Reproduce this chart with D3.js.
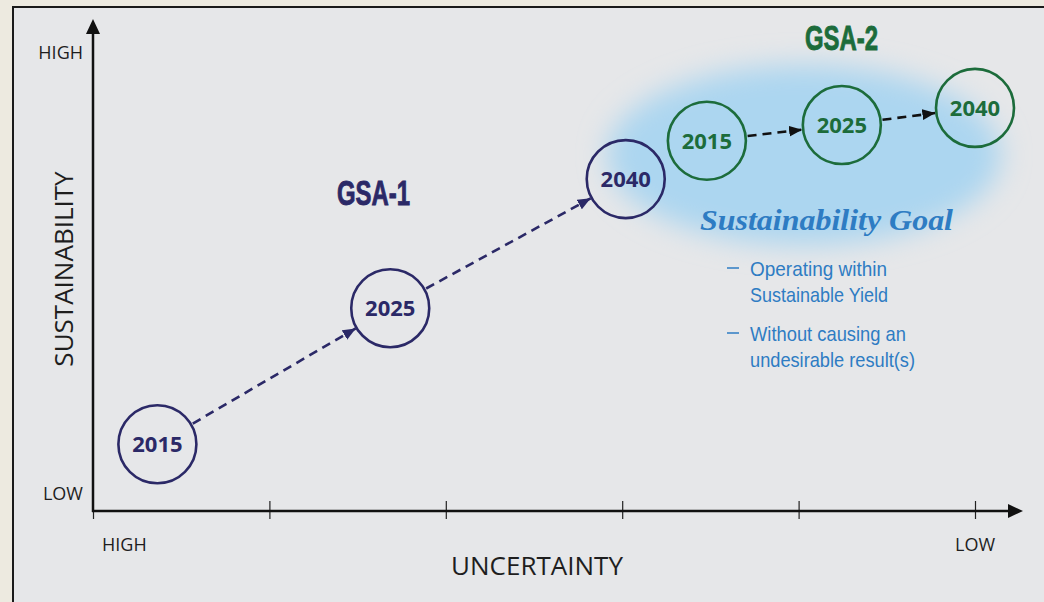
<!DOCTYPE html>
<html>
<head>
<meta charset="utf-8">
<script src="https://cdn.jsdelivr.net/npm/d3@7"></script>
<style>
  html, body { margin: 0; padding: 0; background: #edeae0; }
  svg { display: block; }
</style>
</head>
<body>
<div id="chart"></div>
<script>
// data (both axes 0..100)
var years = ['2015', '2025', '2040'];
var gsa1X = [7.3, 33.7, 60.4];
var gsa1Y = [13.6, 41.3, 67.6];
var gsa2X = [69.6, 84.9, 100];
var gsa2Y = [75.4, 78.6, 82.1];
var xTicks = [0, 20, 40, 60, 80, 100];
var goalLines = [['Operating within', 'Sustainable Yield'], ['Without causing an', 'undesirable result(s)']];
var goalWidths = [[137, 138], [156, 165]];

var width = 1044, height = 602;
var navy = '#2b2967', green = '#1c6c3b', blue = '#2e7cc3';
var narrow = '"Liberation Sans", "Roboto", sans-serif';

var svg = d3.select('#chart').append('svg')
  .attr('width', width)
  .attr('height', height);

var defs = svg.append('defs');
defs.append('filter').attr('id', 'glow')
  .attr('x', '-50%').attr('y', '-50%').attr('width', '200%').attr('height', '200%')
  .append('feGaussianBlur').attr('stdDeviation', 14);

['navyHead', 'blackHead'].forEach(function (id, i) {
  defs.append('marker')
    .attr('id', id)
    .attr('viewBox', '0 0 12 10')
    .attr('refX', 12).attr('refY', 5)
    .attr('markerUnits', 'userSpaceOnUse')
    .attr('markerWidth', 13).attr('markerHeight', 11)
    .attr('orient', 'auto')
    .append('path')
    .attr('d', 'M0,0 L12,5 L0,10 Z')
    .attr('fill', i === 0 ? navy : '#111');
});

// panel + frame
svg.append('rect')
  .attr('x', 13).attr('y', 7)
  .attr('width', width + 10).attr('height', height + 10)
  .attr('fill', '#e6e7e9')
  .attr('stroke', '#1a1a1a')
  .attr('stroke-width', 2);

var x = d3.scaleLinear().domain([0, 100]).range([93, 975]);
var y = d3.scaleLinear().domain([0, 100]).range([511, 20]);

// blue glow behind GSA-2
svg.append('ellipse')
  .attr('cx', 804).attr('cy', 155)
  .attr('rx', 197).attr('ry', 90)
  .attr('fill', '#acd6f0')
  .attr('filter', 'url(#glow)');

// x axis
var xAxis = d3.axisBottom(x).tickValues(xTicks).tickFormat('').tickSize(8).tickSizeOuter(0);
var gx = svg.append('g')
  .attr('transform', 'translate(0,' + y(0) + ')')
  .call(xAxis);
gx.select('.domain').remove();
gx.selectAll('.tick line').attr('y1', -10).attr('stroke', '#222').attr('stroke-width', 1.2);
gx.select('.tick line').attr('y1', 0);
svg.append('line')
  .attr('x1', x(0) - 1).attr('x2', 1010)
  .attr('y1', y(0)).attr('y2', y(0))
  .attr('stroke', '#111').attr('stroke-width', 2.5);
svg.append('path')
  .attr('d', 'M1008,' + (y(0) - 7) + ' L1023,' + y(0) + ' L1008,' + (y(0) + 7) + ' Z')
  .attr('fill', '#111');

// y axis
svg.append('line')
  .attr('x1', x(0)).attr('x2', x(0))
  .attr('y1', y(0) + 1).attr('y2', 32)
  .attr('stroke', '#111').attr('stroke-width', 2.5);
svg.append('path')
  .attr('d', 'M' + (x(0) - 7) + ',34 L' + x(0) + ',19 L' + (x(0) + 7) + ',34 Z')
  .attr('fill', '#111');

var axisFont = '"Open Sans", "Liberation Sans", sans-serif';
function label(tx, ty, txt, size, anchor) {
  return svg.append('text')
    .attr('x', tx).attr('y', ty)
    .attr('text-anchor', anchor || 'start')
    .attr('font-family', axisFont)
    .attr('font-size', size)
    .attr('fill', '#1e1e1e')
    .text(txt);
}
label(83, 59, 'HIGH', 18, 'end');
label(83, 500, 'LOW', 18, 'end');
label(102, 551, 'HIGH', 18);
label(x(100), 551, 'LOW', 18, 'middle');
label(537, 575, 'UNCERTAINTY', 26, 'middle');
label(0, 0, 'SUSTAINABILITY', 26, 'middle')
  .attr('transform', 'translate(73,269) rotate(-90)');

// dashed connectors between circles
var r = 39;
function connectors(xs, ys, color, marker) {
  var pairs = d3.pairs(d3.range(xs.length));
  svg.selectAll(null)
    .data(pairs)
    .enter()
    .append('line')
    .each(function (p) {
      var x1 = x(xs[p[0]]), y1 = y(ys[p[0]]);
      var x2 = x(xs[p[1]]), y2 = y(ys[p[1]]);
      var len = Math.hypot(x2 - x1, y2 - y1);
      var ux = (x2 - x1) / len, uy = (y2 - y1) / len;
      d3.select(this)
        .attr('x1', x1 + ux * (r + 2)).attr('y1', y1 + uy * (r + 2))
        .attr('x2', x2 - ux * (r + 1)).attr('y2', y2 - uy * (r + 1));
    })
    .attr('stroke', color)
    .attr('stroke-width', 2.6)
    .attr('stroke-dasharray', '9,6')
    .attr('marker-end', 'url(#' + marker + ')');
}
connectors(gsa1X, gsa1Y, navy, 'navyHead');
connectors(gsa2X, gsa2Y, '#111', 'blackHead');

// circles
function circles(xs, ys, color) {
  var g = svg.selectAll(null)
    .data(years)
    .enter()
    .append('g')
    .attr('transform', function (d, i) {
      return 'translate(' + x(xs[i]) + ',' + y(ys[i]) + ')';
    });
  g.append('circle')
    .attr('r', r)
    .attr('fill', 'none')
    .attr('stroke', color)
    .attr('stroke-width', 2.6);
  g.append('text')
    .attr('text-anchor', 'middle')
    .attr('dy', '0.36em')
    .attr('font-family', '"Open Sans", sans-serif')
    .attr('font-weight', 700)
    .attr('font-size', 22)
    .attr('fill', color)
    .text(function (d) { return d; });
}
circles(gsa1X, gsa1Y, navy);
circles(gsa2X, gsa2Y, green);

// group titles (condensed look via textLength)
function title(tx, ty, txt, color) {
  svg.append('text')
    .attr('x', tx).attr('y', ty)
    .attr('font-family', narrow)
    .attr('font-weight', 700)
    .attr('font-size', 35)
    .attr('textLength', 73)
    .attr('lengthAdjust', 'spacingAndGlyphs')
    .attr('fill', color)
    .attr('stroke', color)
    .attr('stroke-width', 0.9)
    .text(txt);
}
title(337, 205, 'GSA-1', navy);
title(805, 50, 'GSA-2', green);

// sustainability goal
svg.append('text')
  .attr('x', 700).attr('y', 230)
  .attr('font-family', '"Liberation Serif", "DejaVu Serif", serif')
  .attr('font-weight', 700)
  .attr('font-style', 'italic')
  .attr('font-size', 30)
  .attr('textLength', 253)
  .attr('lengthAdjust', 'spacingAndGlyphs')
  .attr('fill', blue)
  .text('Sustainability Goal');

goalLines.forEach(function (lines, i) {
  var top = 276 + i * 65;
  svg.append('line')
    .attr('x1', 727).attr('x2', 739)
    .attr('y1', top - 8).attr('y2', top - 8)
    .attr('stroke', blue).attr('stroke-width', 1.5);
  lines.forEach(function (t, j) {
    svg.append('text')
      .attr('x', 750).attr('y', top + j * 26)
      .attr('font-family', narrow)
      .attr('font-size', 21)
      .attr('textLength', goalWidths[i][j])
      .attr('lengthAdjust', 'spacingAndGlyphs')
      .attr('fill', blue)
      .text(t);
  });
});
</script>
</body>
</html>
